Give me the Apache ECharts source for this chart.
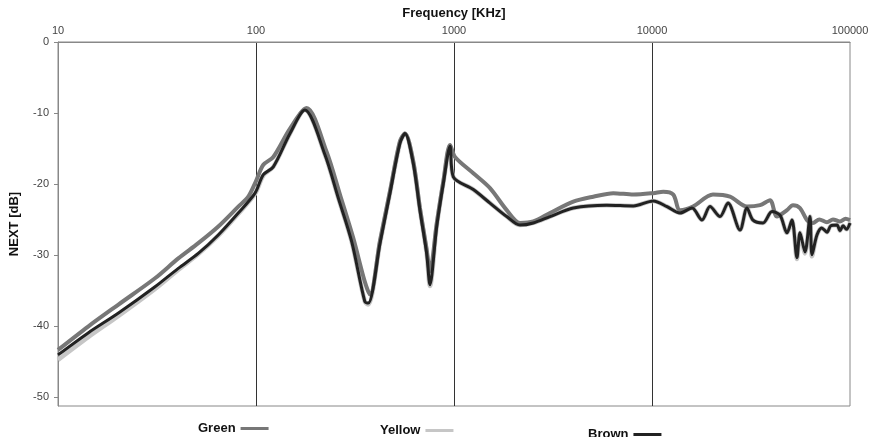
<!DOCTYPE html>
<html>
<head>
<meta charset="utf-8">
<script src="https://cdn.jsdelivr.net/npm/echarts@6/dist/echarts.min.js"></script>
<style>
  html, body { margin: 0; padding: 0; background: #fff; }
  #chart { width: 878px; height: 437px; }
</style>
</head>
<body>
<div id="chart"></div>
<script>
// [frequency kHz, NEXT dB]
const green = [
  [10, -43.4], [14.2, -40.1], [20.2, -37.0], [30.9, -33.3], [40.5, -30.5], [51.1, -28.35],
  [64.5, -26.0], [81.4, -23.2], [91.4, -21.8], [100, -19.6], [108.9, -17.3], [122.3, -16.2],
  [148.5, -12.2], [180, -9.3], [227.5, -15.5], [265.5, -21.5], [309.7, -27.6], [354.6, -33.8],
  [376.6, -35.6], [422.8, -28.0], [475, -21.0], [533, -14.0], [565.5, -12.9], [622.6, -16.8],
  [673, -23.4], [727.5, -29.2], [756, -32.3], [817.7, -25.6], [883.6, -19.6], [955, -14.5],
  [1012, -16.2], [1252, -18.5], [1520, -20.6], [1846, -23.7], [2154, -25.5], [2515, -25.3],
  [3053, -24.1], [4005, -22.5], [5052, -21.8], [6376, -21.3], [8048, -21.5], [10153, -21.3],
  [11400, -21.1], [12810, -21.5], [13850, -23.7], [16100, -23.2], [20320, -21.5], [24770, -21.8],
  [30180, -23.2], [35120, -23.0], [39450, -22.3], [42790, -24.6], [48060, -23.7], [51520, -23.0],
  [55900, -23.4], [60650, -25.1], [65020, -25.5], [70000, -25.0], [76530, -25.4], [82000, -25.0],
  [89000, -25.3], [95000, -24.9], [100000, -25.1]
];
const yellow = [
  [10, -44.8], [14.2, -41.6], [20.2, -38.6], [30.9, -34.8], [40.5, -32.1], [51.1, -29.9],
  [64.5, -27.3], [81.4, -24.2], [98.9, -21.4], [108.9, -18.8], [122.3, -17.6], [148.5, -12.9],
  [176.5, -9.6], [222.9, -15.9], [260.4, -22.0], [304, -28.1], [354.6, -36.6], [369, -37.0],
  [422.8, -28.4], [475, -21.3], [533, -14.3], [565.5, -12.9], [622.6, -17.1], [673, -23.7],
  [727.5, -29.8], [756, -34.4], [817.7, -26.0], [883.6, -19.9], [955, -14.7], [992, -19.0],
  [1252, -20.8], [1520, -22.7], [1846, -24.6], [2154, -25.8], [2515, -25.5], [3053, -24.6],
  [4005, -23.4], [5902, -23.0], [8048, -23.1], [10153, -22.4], [11910, -23.2], [13850, -24.1],
  [15920, -23.4], [17880, -25.1], [19630, -23.2], [22050, -24.6], [24200, -22.7], [27830, -26.5],
  [30180, -23.4], [32370, -25.1], [36360, -25.5], [40370, -23.9], [44320, -24.4], [48060, -26.9],
  [50930, -25.1], [53960, -30.6], [55900, -26.9], [59260, -29.8], [62800, -24.6], [64270, -30.2],
  [68080, -27.2], [72000, -26.2], [76530, -26.8], [80000, -25.9], [85970, -25.8], [89000, -26.6],
  [92170, -25.9], [96000, -26.4], [100000, -25.5]
];
const brown = [
  [10, -44.1], [14.2, -41.0], [20.2, -38.2], [30.9, -34.5], [40.5, -31.9], [51.1, -29.8],
  [64.5, -27.2], [81.4, -24.1], [98.9, -21.3], [108.9, -18.7], [122.3, -17.6], [148.5, -12.9],
  [176.5, -9.6], [222.9, -15.9], [260.4, -22.0], [304, -28.1], [354.6, -36.6], [369, -36.8],
  [422.8, -28.4], [475, -21.3], [533, -14.3], [565.5, -12.9], [622.6, -17.1], [673, -23.7],
  [727.5, -29.8], [756, -34.2], [817.7, -26.0], [883.6, -19.9], [955, -14.7], [992, -19.0],
  [1252, -20.8], [1520, -22.7], [1846, -24.6], [2154, -25.8], [2515, -25.5], [3053, -24.6],
  [4005, -23.4], [5902, -23.0], [8048, -23.1], [10153, -22.4], [11910, -23.2], [13850, -24.1],
  [15920, -23.4], [17880, -25.1], [19630, -23.2], [22050, -24.6], [24200, -22.7], [27830, -26.5],
  [30180, -23.4], [32370, -25.1], [36360, -25.5], [40370, -23.9], [44320, -24.4], [48060, -26.9],
  [50930, -25.1], [53960, -30.4], [55900, -26.9], [59260, -29.6], [62800, -24.6], [64270, -30.0],
  [68080, -27.2], [72000, -26.2], [76530, -26.8], [80000, -25.9], [85970, -25.8], [89000, -26.6],
  [92170, -25.9], [96000, -26.4], [100000, -25.5]
];
const yTicks = [0, -10, -20, -30, -40, -50];

const chart = echarts.init(document.getElementById('chart'));

const font = 'Liberation Sans, Arial, sans-serif';
const legendText = { fontFamily: font, fontSize: 13, fontWeight: 'bold', color: '#111' };

function legend(name, left, top) {
  return {
    data: [name], left: left, top: top, align: 'right', padding: 0,
    icon: 'rect', itemWidth: 28, itemHeight: 3, itemGap: 0,
    textStyle: legendText, selectedMode: false
  };
}

function line(name, data, color, width, z) {
  return {
    name: name, type: 'line', data: data, z: z,
    showSymbol: false, smooth: 0.3,
    lineStyle: { color: color, width: width },
    itemStyle: { color: color },
    animation: false
  };
}

chart.setOption({
  backgroundColor: '#fff',
  animation: false,
  grid: {
    left: 58, right: 28, top: 42, bottom: 31,
    outerBoundsMode: 'none',
    show: true, borderColor: '#888', borderWidth: 1
  },
  legend: [
    legend('Green', 198, 422),
    legend('Yellow', 380, 424),
    legend('Brown', 588, 428)
  ],
  xAxis: {
    type: 'log', logBase: 10, min: 10, max: 100000, position: 'top',
    name: 'Frequency [KHz]', nameLocation: 'middle', nameGap: 21,
    nameTextStyle: { fontFamily: font, fontSize: 13, fontWeight: 'bold', color: '#111' },
    axisLine: { lineStyle: { color: '#888' } },
    axisTick: { show: false },
    axisLabel: { fontFamily: font, fontSize: 11, color: '#444', margin: 6, formatter: v => String(v) },
    splitLine: { show: true, showMinLine: false, showMaxLine: false, lineStyle: { color: '#333', width: 1 } },
    minorTick: { show: false }
  },
  yAxis: {
    type: 'value', min: -51.3, max: 0,
    name: 'NEXT [dB]', nameLocation: 'middle', nameGap: 37, nameRotate: 90,
    nameTextStyle: { fontFamily: font, fontSize: 13, fontWeight: 'bold', color: '#111' },
    axisLine: { show: true, lineStyle: { color: '#888' } },
    axisTick: { show: true, length: 4, customValues: yTicks, lineStyle: { color: '#888' } },
    axisLabel: { fontFamily: font, fontSize: 11, color: '#444', margin: 9, customValues: yTicks },
    splitLine: { show: false }
  },
  series: [
    line('Yellow', yellow, '#c6c6c6', 4.5, 1),
    line('Green', green, '#777777', 4, 2),
    line('Brown', brown, '#222222', 3, 3)
  ]
});

window.addEventListener('resize', chart.resize);
</script>
</body>
</html>
